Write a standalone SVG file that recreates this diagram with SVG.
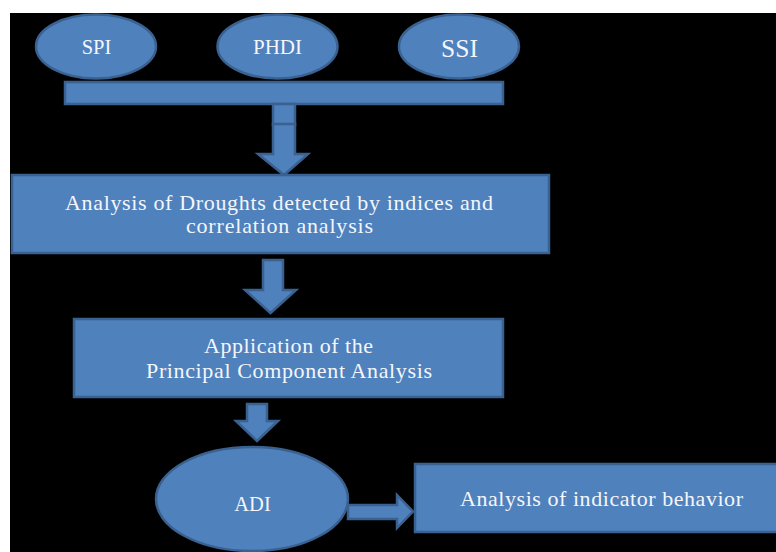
<svg xmlns="http://www.w3.org/2000/svg" width="776" height="552" viewBox="0 0 776 552">
<style>
.shp{fill:#4F81BD;stroke:#3A6190;stroke-width:2.5}
.t{font-family:"Liberation Serif","DejaVu Serif",serif;fill:#F4F6FA;text-anchor:middle}
</style>
<rect x="0" y="0" width="776" height="552" fill="#FFFFFF"/>
<rect x="10" y="13" width="766" height="539" fill="#000000"/>
<g id="connectors">
<rect class="shp" x="65" y="82" width="438" height="22"/>
<rect class="shp" x="273" y="104" width="22" height="21"/>
<path class="shp" d="M273,124 H295 V154 H308 L284,175 L258,154 H273 Z"/>
<path class="shp" d="M263,260 H283 V290 H296 L270.5,313 L245,290 H263 Z"/>
<path class="shp" d="M247,404 H267 V421 H278 L257,441 L236,421 H247 Z"/>
<path class="shp" d="M348,505 H397 V495 L413,511.5 L397,528 V519 H348 Z"/>
</g>
<g id="spi">
<ellipse class="shp" cx="96" cy="46.5" rx="60" ry="32"/>
<text class="t" x="96.5" y="54" font-size="20.5">SPI</text>
</g>
<g id="phdi">
<ellipse class="shp" cx="277.5" cy="46.5" rx="60" ry="32"/>
<text class="t" x="277.5" y="54" font-size="21">PHDI</text>
</g>
<g id="ssi">
<ellipse class="shp" cx="459" cy="46.5" rx="60" ry="32"/>
<text class="t" x="459.5" y="57" font-size="25.5">SSI</text>
</g>
<g id="analysis-droughts">
<rect class="shp" x="12" y="175" width="537" height="78"/>
<text class="t" x="279" y="210" font-size="22" textLength="428">Analysis  of Droughts detected by indices and</text>
<text class="t" x="279.5" y="233" font-size="22" textLength="187">correlation analysis</text>
</g>
<g id="pca">
<rect class="shp" x="74" y="319" width="429" height="78"/>
<text class="t" x="288.5" y="353" font-size="22" textLength="169">Application of the</text>
<text class="t" x="289" y="378" font-size="22" textLength="286">Principal Component Analysis</text>
</g>
<g id="adi">
<ellipse class="shp" cx="252" cy="499" rx="96" ry="52"/>
<text class="t" x="252.5" y="511" font-size="20.5">ADI</text>
</g>
<g id="indicator-behavior">
<rect class="shp" x="415" y="464" width="375" height="68"/>
<text class="t" x="601.5" y="506" font-size="22" textLength="283">Analysis of indicator behavior</text>
</g>
</svg>
